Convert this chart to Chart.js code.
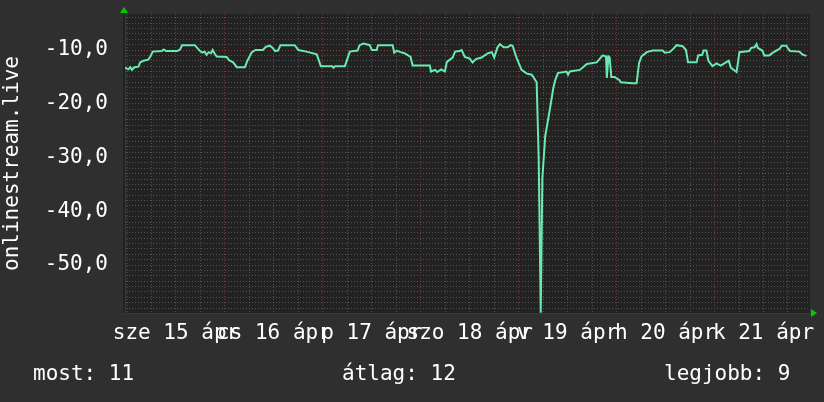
<!DOCTYPE html>
<html>
<head>
<meta charset="utf-8">
<script src="https://cdn.jsdelivr.net/npm/chart.js@4.4.1/dist/chart.umd.min.js"></script>
<style>
  html, body { margin: 0; padding: 0; background: #2f2f2f; }
  #chartBox { display: block; }
</style>
</head>
<body>
<canvas id="chartBox" width="824" height="402"></canvas>
<script>
// hours since 15 Apr 00:00, and the measured value at that time
const hours = [
  -0.5, 0.3, 0.8, 1.2, 1.8, 2.8, 3.2, 4.0, 5.2, 5.7, 6.3, 8.5, 9.0, 9.5, 12.3, 13.0, 13.5, 16.6, 17.3, 17.9,
  18.5, 19.0, 19.5, 20.0, 20.6, 21.0, 21.5, 22.0, 24.4, 25.0, 26.0, 26.9, 28.9, 29.5, 30.6, 31.5, 33.3, 34.0, 35.0, 35.7,
  36.3, 37.0, 37.6, 41.1, 42.0, 44.0, 46.5, 47.5, 50.3, 50.6, 51.0, 53.4, 54.6, 56.5, 57.0, 58.0, 59.5, 60.0, 61.2, 61.5,
  65.1, 65.5, 66.1, 67.0, 68.0, 69.5, 70.0, 74.2, 74.5, 75.5, 76.0, 77.0, 77.9, 78.4, 79.8, 80.4, 81.5, 82.0, 82.8, 84.0,
  84.7, 85.5, 86.9, 87.5, 88.5, 89.4, 90.0, 90.8, 91.4, 92.3, 93.3, 94.0, 94.5, 95.5, 96.7, 98.0, 99.2, 100.4, 100.9, 101.4,
  101.8, 102.5, 103.6, 104.5, 105.0, 105.6, 107.7, 108.1, 108.5, 111.0, 112.7, 115.1, 116.6, 117.4, 117.6, 118.0, 118.3, 118.7, 119.5, 120.7,
  121.0, 123.9, 124.9, 125.5, 126.1, 127.4, 128.8, 131.3, 131.8, 133.0, 134.0, 134.7, 136.2, 137.0, 137.5, 139.6, 140.0, 141.0, 141.3, 142.0,
  142.5, 143.5, 144.5, 145.5, 147.0, 147.5, 148.0, 149.4, 150.1, 152.5, 153.0, 153.8, 154.3, 154.6, 155.7, 156.2, 157.4, 158.5, 159.9, 160.5,
  161.6, 162.0, 162.5, 164.8, 165.5, 166.5
]
const values = [
  -13.3, -13.6, -13.2, -13.7, -13.2, -13.1, -12.3, -12.0, -11.8, -11.2, -10.3, -10.2, -9.9, -10.2, -10.2, -9.9, -9.1, -9.1, -9.7, -10.2,
  -10.5, -10.3, -10.9, -10.4, -10.6, -10.0, -10.7, -11.2, -11.3, -11.9, -12.3, -13.2, -13.2, -12.0, -10.4, -10.0, -10.0, -9.4, -9.2, -9.6,
  -10.2, -10.1, -9.1, -9.1, -10.0, -10.3, -10.8, -13.0, -13.0, -13.3, -13.0, -13.0, -10.3, -10.1, -9.1, -8.8, -9.1, -10.0, -10.0, -9.1,
  -9.1, -10.5, -10.1, -10.4, -10.6, -11.3, -12.9, -12.9, -14.0, -13.7, -14.1, -13.6, -14.0, -12.2, -11.4, -10.3, -10.2, -10.0, -11.3, -11.6,
  -12.3, -11.7, -11.4, -11.1, -10.6, -10.4, -11.4, -9.5, -8.9, -9.5, -9.5, -9.1, -9.2, -11.5, -13.7, -14.4, -14.6, -16.0, -30.0, -58.9,
  -33.8, -26.0, -21.2, -17.0, -15.5, -14.3, -14.0, -14.6, -14.0, -13.7, -12.6, -12.3, -11.0, -11.2, -15.2, -11.2, -11.4, -15.0, -15.0, -15.6,
  -16.0, -16.2, -16.2, -12.4, -11.2, -10.4, -10.1, -10.1, -10.5, -10.4, -9.7, -9.1, -9.3, -10.0, -12.3, -12.3, -11.0, -10.9, -10.1, -10.1,
  -12.0, -13.0, -12.5, -12.9, -12.2, -12.0, -13.3, -14.1, -10.4, -10.2, -9.6, -9.5, -8.9, -9.6, -10.1, -11.0, -11.0, -10.4, -9.8, -9.2,
  -9.2, -9.7, -10.2, -10.3, -10.8, -11.1
]
const dayLabels = ['sze 15 ápr', 'cs 16 ápr', 'p 17 ápr', 'szo 18 ápr', 'v 19 ápr', 'h 20 ápr', 'k 21 ápr']
const yLabels = [-10, -20, -30, -40, -50]
const summaryNames = ['most', 'átlag', 'legjobb']
const summaryValues = [11, 12, 9]

const mono = 'DejaVu Sans Mono'
const minorGrid = 'rgba(88,88,88,0.9)'
const majorGrid = '#803636'

const decor = {
    id: 'decor',
    beforeDraw(chart) {
        const { ctx, chartArea: a } = chart
        ctx.save()
        ctx.fillStyle = '#222222'
        ctx.fillRect(a.left - 2, a.top, a.right - a.left + 2, a.bottom - a.top)
        ctx.restore()
    },
    afterDraw(chart) {
        const { ctx, chartArea: a } = chart
        ctx.save()
        // little green arrows at the axis ends
        ctx.fillStyle = '#00cc00'
        ctx.beginPath()
        ctx.moveTo(a.left - 5, a.top - 1)
        ctx.lineTo(a.left + 3, a.top - 1)
        ctx.lineTo(a.left - 1, a.top - 7)
        ctx.fill()
        ctx.beginPath()
        ctx.moveTo(a.right + 1, a.bottom - 4)
        ctx.lineTo(a.right + 1, a.bottom + 4)
        ctx.lineTo(a.right + 7, a.bottom)
        ctx.fill()
        // summary line under the chart
        ctx.fillStyle = '#ffffff'
        ctx.font = '21px "' + mono + '"'
        ctx.textBaseline = 'middle'
        const xs = [33, 342, 664]
        summaryNames.forEach((n, i) => {
            ctx.fillText(n + ': ' + summaryValues[i], xs[i], 375)
        })
        ctx.restore()
    }
}

const context = document.querySelector('#chartBox').getContext('2d')
const chart = new Chart(context, {
    type: 'line',
    data: {
        datasets: [{
            label: 'onlinestream.live',
            data: hours.map((h, i) => ({ x: h, y: values[i] })),
            borderColor: '#6aeab0',
            borderWidth: 2,
            pointRadius: 0,
            tension: 0,
            fill: false
        }]
    },
    options: {
        responsive: false,
        animation: false,
        layout: { padding: { left: 0, top: 14, right: 14, bottom: 0 } },
        plugins: { legend: { display: false }, tooltip: { enabled: false } },
        scales: {
            x: {
                type: 'linear',
                min: -0.5,
                max: 167.4,
                afterBuildTicks: (scale) => {
                    const t = []
                    for (let h = 0; h <= 162; h += 6) t.push({ value: h })
                    scale.ticks = t
                },
                afterFit: (scale) => {
                    scale.height = 89
                    scale.paddingLeft = 0
                    scale.paddingRight = 0
                },
                grid: {
                    drawTicks: false,
                    color: (c) => (c.tick && c.tick.value % 24 === 0) ? majorGrid : minorGrid,
                    lineWidth: 1
                },
                border: { display: true, color: '#3a3a3a', dash: [1, 2] },
                ticks: {
                    autoSkip: false,
                    maxRotation: 0,
                    minRotation: 0,
                    padding: 8,
                    color: '#ffffff',
                    font: { family: mono, size: 21 },
                    callback: (v) => (v % 24 === 12) ? dayLabels[(v - 12) / 24] : ''
                }
            },
            y: {
                type: 'linear',
                min: -58.93,
                max: -3.3,
                afterBuildTicks: (scale) => {
                    const t = []
                    for (let v = -58; v <= -4; v++) t.push({ value: v })
                    scale.ticks = t
                },
                afterFit: (scale) => {
                    scale.width = 125
                    scale.paddingTop = 0
                    scale.paddingBottom = 0
                },
                grid: {
                    drawTicks: false,
                    color: (c) => (c.tick && c.tick.value % 10 === 0) ? majorGrid : minorGrid,
                    lineWidth: 1
                },
                border: { display: true, color: '#3a3a3a', dash: [1, 2] },
                ticks: {
                    autoSkip: false,
                    padding: 17,
                    color: '#ffffff',
                    font: { family: mono, size: 21 },
                    callback: (v) => yLabels.includes(v) ? v.toFixed(1).replace('.', ',') : ''
                },
                title: {
                    display: true,
                    text: 'onlinestream.live',
                    color: '#ffffff',
                    font: { family: mono, size: 21 },
                    padding: 0
                }
            }
        }
    },
    plugins: [decor]
})
</script>
</body>
</html>
